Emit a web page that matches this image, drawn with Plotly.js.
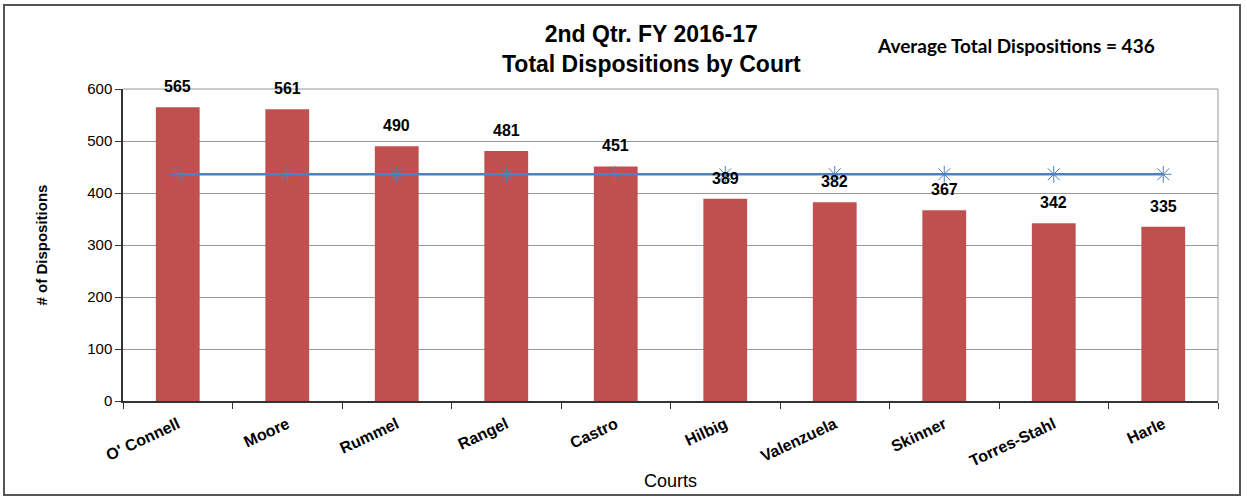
<!DOCTYPE html>
<html><head><meta charset="utf-8">
<script src="https://cdn.plot.ly/plotly-3.0.1.min.js"></script>
<style>body{margin:0;background:#fff}#frame{position:absolute;left:3px;top:4px;width:1238px;height:492px;border:2px solid #555;pointer-events:none;box-sizing:border-box}</style>
</head><body>
<div id="chart" style="width:1247px;height:502px"></div>
<div id="frame"></div>
<script>
const courts = ["O' Connell","Moore","Rummel","Rangel","Castro","Hilbig","Valenzuela","Skinner","Torres-Stahl","Harle"];
const dispositions = [565,561,490,481,451,389,382,367,342,335];
const average = [436,436,436,436,436,436,436,436,436,436];

const bars = {
  type:'bar', x:courts, y:dispositions,
  marker:{color:'#C0504D'}, width:0.4,
  hoverinfo:'x+y'
};
const avgLine = {
  type:'scatter', mode:'lines+markers', x:courts, y:average,
  line:{color:'#4F81BD', width:2.5},
  marker:{symbol:'asterisk-open', size:14, color:'#4F81BD', line:{color:'#4F81BD', width:1}},
  cliponaxis:false
};
const valueLabels = courts.map((c,i)=>({
  x:c, y:dispositions[i], xref:'x', yref:'y', text:'<b>'+dispositions[i]+'</b>',
  showarrow:false, yanchor:'bottom', yshift:10,
  font:{family:'Liberation Sans, Arial', size:16, color:'#000'}
}));
const layout = {
  width:1247, height:502,
  margin:{l:123, r:29, t:89, b:101},
  showlegend:false,
  paper_bgcolor:'#fff', plot_bgcolor:'#fff',
  xaxis:{type:'category', range:[-0.5,9.5], tickson:'boundaries', ticks:'outside', ticklen:6, tickcolor:'#333',
    showline:true, linecolor:'#333', linewidth:2, tickangle:-25, ticklabelstandoff:6,
    tickfont:{family:'Liberation Sans, Arial', size:16, color:'#000', weight:'bold'},
    title:{text:'Courts', font:{family:'Liberation Sans Narrow, Liberation Sans, Arial', size:18, color:'#000'}, standoff:6}},
  yaxis:{range:[0,600], dtick:100, ticks:'outside', ticklen:6, tickcolor:'#333',
    showline:true, linecolor:'#333', linewidth:1.5, gridcolor:'#999', gridwidth:1,
    tickfont:{family:'Liberation Sans, Arial', size:15, color:'#000'},
    title:{text:'<b># of Dispositions</b>', font:{family:'Liberation Sans, Arial', size:15, color:'#000'}, standoff:36}},
  shapes:[
    {type:'line', xref:'paper', yref:'paper', x0:0, x1:1, y0:1, y1:1, line:{color:'#999', width:1}},
    {type:'line', xref:'paper', yref:'paper', x0:1, x1:1, y0:0, y1:1, line:{color:'#999', width:1}}
  ],
  annotations:[
    {text:'<b>2nd Qtr. FY 2016-17<br>Total Dispositions by Court</b>', xref:'paper', yref:'paper', x:0.483, y:1.128,
      xanchor:'center', yanchor:'middle', showarrow:false,
      font:{family:'Liberation Sans, Arial', size:23, color:'#000'}},
    {text:'<b>Average Total Dispositions = 436</b>', xref:'paper', yref:'paper', x:0.8155, y:1.141,
      xanchor:'center', yanchor:'middle', showarrow:false,
      font:{family:'Lato, Open Sans', size:19, color:'#000'}}
  ].concat(valueLabels)
};
Plotly.newPlot('chart',[bars, avgLine],layout,{displayModeBar:false});
</script>
</body></html>
